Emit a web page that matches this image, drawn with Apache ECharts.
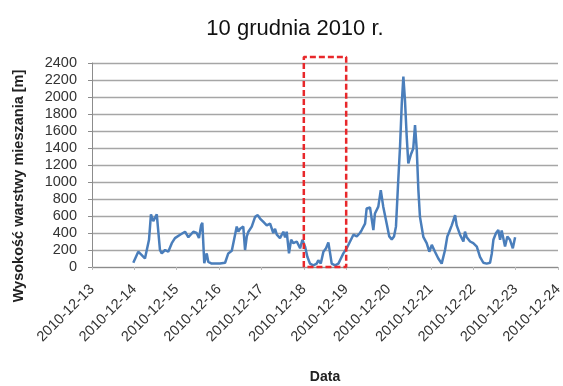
<!DOCTYPE html>
<html><head><meta charset="utf-8">
<script src="https://cdn.jsdelivr.net/npm/echarts@6/dist/echarts.min.js"></script>
<style>html,body{margin:0;padding:0;background:#fff}#c{width:563px;height:386px}</style>
</head><body><div id="c"></div>
<script>
const titleText = '10 grudnia 2010 r.';
const yName = 'Wysokość warstwy mieszania [m]';
const xName = 'Data';
const yTicks = [0,200,400,600,800,1000,1200,1400,1600,1800,2000,2200,2400];
const xStart = '2010-12-13 00:00';
const xEnd = '2010-12-24 00:00';
const boxStart = '2010-12-18 00:00';
const boxEnd = '2010-12-19 00:00';
const boxTop = 2470;
const times = [
'2010-12-13 23:24','2010-12-14 02:12','2010-12-14 04:12','2010-12-14 06:00','2010-12-14 07:00','2010-12-14 08:18',
'2010-12-14 09:24','2010-12-14 10:42','2010-12-14 12:42','2010-12-14 14:30','2010-12-14 15:30','2010-12-14 17:24',
'2010-12-14 19:12','2010-12-14 21:12','2010-12-14 23:00','2010-12-15 01:54','2010-12-15 04:42','2010-12-15 06:36',
'2010-12-15 09:24','2010-12-15 11:18','2010-12-15 12:36','2010-12-15 13:48','2010-12-15 14:30','2010-12-15 15:36',
'2010-12-15 17:00','2010-12-15 17:54','2010-12-15 19:48','2010-12-16 00:30','2010-12-16 03:24','2010-12-16 05:12',
'2010-12-16 07:12','2010-12-16 09:24','2010-12-16 10:00','2010-12-16 10:54','2010-12-16 11:54','2010-12-16 13:42',
'2010-12-16 14:42','2010-12-16 15:42','2010-12-16 16:36','2010-12-16 18:30','2010-12-16 20:24','2010-12-16 21:54',
'2010-12-16 23:12','2010-12-17 01:06','2010-12-17 03:00','2010-12-17 04:54','2010-12-17 06:42','2010-12-17 07:42',
'2010-12-17 08:42','2010-12-17 10:30','2010-12-17 12:24','2010-12-17 13:24','2010-12-17 14:18','2010-12-17 15:36',
'2010-12-17 16:48','2010-12-17 18:06','2010-12-17 20:00','2010-12-17 21:54','2010-12-17 23:12','2010-12-18 00:42',
'2010-12-18 02:00','2010-12-18 03:30','2010-12-18 05:24','2010-12-18 07:18','2010-12-18 08:12','2010-12-18 09:36',
'2010-12-18 11:06','2010-12-18 12:36','2010-12-18 13:54','2010-12-18 14:54','2010-12-18 15:48','2010-12-18 17:42',
'2010-12-18 19:36','2010-12-18 20:30','2010-12-18 22:24','2010-12-19 00:18','2010-12-19 02:12','2010-12-19 04:06',
'2010-12-19 06:00','2010-12-19 07:48','2010-12-19 08:48','2010-12-19 10:42','2010-12-19 11:36','2010-12-19 13:30',
'2010-12-19 15:24','2010-12-19 16:18','2010-12-19 18:12','2010-12-19 19:36','2010-12-19 21:00','2010-12-19 22:54',
'2010-12-20 00:24','2010-12-20 01:48','2010-12-20 03:06','2010-12-20 04:12','2010-12-20 05:30','2010-12-20 06:30',
'2010-12-20 07:30','2010-12-20 08:24','2010-12-20 09:18','2010-12-20 10:18','2010-12-20 11:12','2010-12-20 12:36',
'2010-12-20 14:00','2010-12-20 15:00','2010-12-20 16:00','2010-12-20 16:54','2010-12-20 17:48','2010-12-20 19:42',
'2010-12-20 21:36','2010-12-20 23:06','2010-12-21 00:30','2010-12-21 02:18','2010-12-21 04:12','2010-12-21 06:06',
'2010-12-21 07:06','2010-12-21 08:00','2010-12-21 09:18','2010-12-21 10:24','2010-12-21 11:48','2010-12-21 13:42',
'2010-12-21 14:36','2010-12-21 16:30','2010-12-21 18:24','2010-12-21 19:18','2010-12-21 20:18','2010-12-21 22:12',
'2010-12-22 00:00','2010-12-22 02:00','2010-12-22 03:48','2010-12-22 05:42','2010-12-22 07:36','2010-12-22 09:30',
'2010-12-22 10:30','2010-12-22 11:24','2010-12-22 12:54','2010-12-22 14:12','2010-12-22 15:12','2010-12-22 16:06',
'2010-12-22 18:00','2010-12-22 19:18','2010-12-22 20:48','2010-12-22 22:24','2010-12-22 23:42'
];
const heights = [
50,180,140,100,80,320,
620,540,620,200,160,200,
180,280,340,380,415,350,
415,400,340,490,520,45,
160,60,40,40,50,160,
190,415,475,415,450,475,
200,360,415,475,590,610,
570,530,490,510,400,450,
380,340,415,350,415,160,
320,280,300,220,320,240,
120,40,20,40,80,40,
180,220,290,160,40,20,
40,80,160,220,300,380,
360,400,435,510,690,700,
435,630,710,905,710,515,
360,325,360,475,1020,1415,
1925,2240,1965,1530,1220,1320,
1395,1670,1375,905,590,355,
280,180,260,180,100,40,
50,200,360,415,490,610,
490,380,300,415,350,300,
280,240,120,50,40,50,
160,320,400,435,320,430,
240,360,320,220,350
];

function ts(s){
  const m = s.match(/(\d+)-(\d+)-(\d+) (\d+):(\d+)/);
  return Date.UTC(+m[1], +m[2]-1, +m[3], +m[4], +m[5]);
}
const DAY = 86400000;
const lineData = times.map((t,i)=>[ts(t), heights[i]]);
const boxData = [[ts(boxStart),0],[ts(boxStart),boxTop],[ts(boxEnd),boxTop],[ts(boxEnd),0],[ts(boxStart),0]];
function fmt(v){
  const d = new Date(v);
  const p = n => String(n).padStart(2,'0');
  return d.getUTCFullYear()+'-'+p(d.getUTCMonth()+1)+'-'+p(d.getUTCDate());
}
const font = 'Liberation Sans, Arial, sans-serif';
const chart = echarts.init(document.getElementById('c'), null, {renderer:'canvas'});
chart.setOption({
  animation:false,
  backgroundColor:'#fff',
  title:{text:titleText,left:290,top:13,textAlign:'center',
    textStyle:{fontFamily:font,fontSize:22,fontWeight:'normal',color:'#111'}},
  grid:{left:92,right:5,top:63,bottom:119,containLabel:false,outerBoundsMode:'none'},
  xAxis:{type:'value',min:ts(xStart),max:ts(xEnd),interval:DAY,
    name:xName,nameLocation:'middle',nameGap:103,
    nameTextStyle:{fontFamily:font,fontSize:14,fontWeight:'bold',color:'#222'},
    axisLine:{lineStyle:{color:'#8c8c8c',width:1}},
    axisTick:{show:true,length:3,lineStyle:{color:'#bbb'}},
    splitLine:{show:false},
    axisLabel:{rotate:45,formatter:fmt,fontFamily:font,fontSize:14.5,color:'#333',margin:20}},
  yAxis:{type:'value',min:0,max:2400,interval:200,
    axisLine:{show:true,lineStyle:{color:'#8c8c8c'}},
    axisTick:{show:true,length:4,lineStyle:{color:'#8c8c8c'}},
    splitLine:{lineStyle:{color:'#a6a6a6',width:1.3}},
    axisLabel:{fontFamily:font,fontSize:14.5,color:'#333',margin:15,formatter:v=>String(v)}},
  graphic:[{type:'text',x:19,y:186,rotation:Math.PI/2,
    style:{text:yName,font:'bold 14.5px '+font,fill:'#222',align:'center',verticalAlign:'middle'}}],
  series:[
    {type:'line',data:lineData,showSymbol:false,smooth:false,
      lineStyle:{color:'#4a7ebb',width:2.5},z:3},
    {type:'line',data:boxData,showSymbol:false,clip:false,
      lineStyle:{color:'#e8282b',width:2.5,type:[6,3]},z:4}
  ]
});
</script></body></html>
